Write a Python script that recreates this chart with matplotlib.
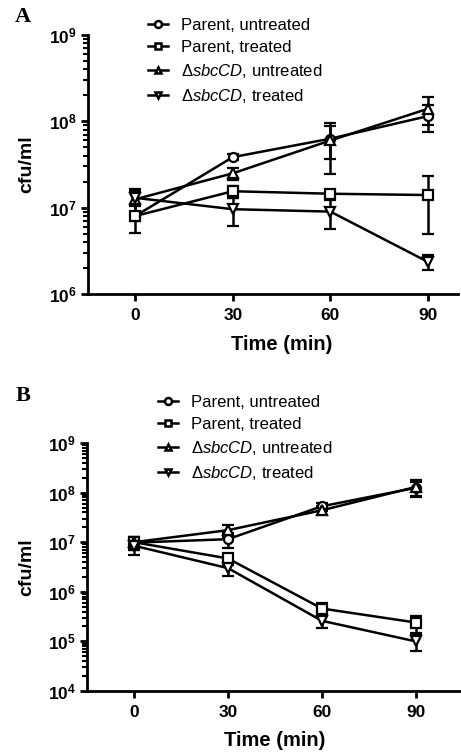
import numpy as np
import matplotlib
matplotlib.use("Agg")
import matplotlib.pyplot as plt
from matplotlib.ticker import FixedLocator, LogLocator, FuncFormatter, NullFormatter

plt.rcParams['font.family'] = ['Liberation Sans', 'DejaVu Sans']
plt.rcParams['mathtext.fontset'] = 'custom'
plt.rcParams['mathtext.rm'] = 'Liberation Sans'
plt.rcParams['mathtext.it'] = 'Liberation Sans:italic'
plt.rcParams['mathtext.bf'] = 'Liberation Sans:bold'

# time points (min)
times = [0, 30, 60, 90]
labels = ['Parent, untreated', 'Parent, treated',
          'Δ$\\mathit{sbcCD}$, untreated', 'Δ$\\mathit{sbcCD}$, treated']
markers = ['o', 's', '^', 'v']

# panel A values (cfu/ml) and errors
a_par_un = [8.0e6, 3.85e7, 6.3e7, 1.15e8]
a_par_un_err = [1.0e6, 3.0e6, 2.6e7, 4.0e7]
a_par_tr = [8.0e6, 1.55e7, 1.45e7, 1.4e7]
a_par_tr_err = [2.9e6, 2.5e6, 1.5e6, 9.0e6]
a_sbc_un = [1.25e7, 2.5e7, 6.0e7, 1.4e8]
a_sbc_un_err = [4.0e6, 4.0e6, 3.55e7, 5.0e7]
a_sbc_tr = [1.3e7, 9.6e6, 9.0e6, 2.35e6]
a_sbc_tr_err = [2.5e6, 3.5e6, 3.3e6, 4.5e5]

# panel B values (cfu/ml) and errors
b_par_un = [9.8e6, 1.15e7, 5.3e7, 1.25e8]
b_par_un_err = [2.5e6, 4.0e6, 1.0e7, 4.0e7]
b_par_tr = [1.0e7, 4.7e6, 4.6e5, 2.4e5]
b_par_tr_err = [3.0e6, 1.2e6, 1.3e5, 9.0e4]
b_sbc_un = [1.0e7, 1.75e7, 4.4e7, 1.3e8]
b_sbc_un_err = [3.0e6, 5.0e6, 9.0e6, 5.0e7]
b_sbc_tr = [8.5e6, 3.0e6, 2.6e5, 1.0e5]
b_sbc_tr_err = [3.0e6, 9.0e5, 7.0e4, 3.5e4]

W, H = 461, 752
fig = plt.figure(figsize=(W / 100, H / 100), dpi=100)


def box(left, right, top, bottom):
    return [left / W, 1 - bottom / H, (right - left) / W, (bottom - top) / H]


def panel(ax, series, errs, ylo, yhi, xlim, leg_xy, xlab_y, ylab_x):
    handles = []
    for vals, err, m in zip(series, errs, markers):
        ax.errorbar(times, vals, yerr=err, color='black', lw=1.8,
                    elinewidth=1.8, capsize=4.5, capthick=1.8,
                    marker=m, ms=6.5, mfc='white', mec='black', mew=1.6,
                    zorder=3)
        h, = ax.plot([], [], color='black', lw=1.8, marker=m, ms=5,
                     mfc='white', mec='black', mew=1.8)
        handles.append(h)
    ax.set_yscale('log')
    ax.set_ylim(10.0 ** ylo, 10.0 ** yhi)
    ax.set_xlim(*xlim)
    ax.set_xticks(times)
    ax.yaxis.set_major_locator(FixedLocator([10.0 ** k for k in range(ylo, yhi + 1)]))
    ax.yaxis.set_minor_locator(LogLocator(base=10, subs=np.arange(2, 10), numticks=20))
    ax.yaxis.set_minor_formatter(NullFormatter())
    ax.yaxis.set_major_formatter(FuncFormatter(
        lambda v, p: r'$\mathbf{10^{%d}}$' % int(round(np.log10(v)))))
    for s in ['top', 'right']:
        ax.spines[s].set_visible(False)
    for s in ['left', 'bottom']:
        ax.spines[s].set_linewidth(2)
    ax.tick_params(axis='both', which='major', width=2, length=5,
                   labelsize=12.5, pad=3)
    ax.tick_params(axis='x', which='major', pad=5)
    ax.tick_params(axis='y', which='minor', width=1.5, length=3.5)
    for t in ax.get_xticklabels():
        t.set_fontweight('bold')
    ax.set_ylabel('cfu/ml', fontsize=14, fontweight='bold')
    ax.yaxis.set_label_coords(ylab_x, 0.5)
    ax.set_xlabel('Time (min)', fontsize=14.5, fontweight='bold')
    x0 = (0 - xlim[0]) / (xlim[1] - xlim[0])
    x1 = (90 - xlim[0]) / (xlim[1] - xlim[0])
    ax.xaxis.set_label_coords((x0 + x1) / 2, xlab_y)
    fig.legend(handles, labels, loc='upper left',
               bbox_to_anchor=(leg_xy[0] / W, 1 - leg_xy[1] / H),
               frameon=False, fontsize=12, handlelength=1.2,
               handletextpad=0.8, labelspacing=0.42, borderpad=0,
               borderaxespad=0)


axA = fig.add_axes(box(88, 458, 35, 294))
panel(axA, [a_par_un, a_par_tr, a_sbc_un, a_sbc_tr],
      [a_par_un_err, a_par_tr_err, a_sbc_un_err, a_sbc_tr_err],
      6, 9, (-14.5, 99.2), (148, 18), -0.158, -0.143)

axB = fig.add_axes(box(87, 461, 443, 691))
panel(axB, [b_par_un, b_par_tr, b_sbc_un, b_sbc_tr],
      [b_par_un_err, b_par_tr_err, b_sbc_un_err, b_sbc_tr_err],
      4, 9, (-15, 104.4), (158, 395), -0.161, -0.139)

fig.text(15 / W, 1 - 17 / H, 'A', fontsize=16, fontweight='bold',
         family='Liberation Serif', va='center')
fig.text(16 / W, 1 - 396 / H, 'B', fontsize=16, fontweight='bold',
         family='Liberation Serif', va='center')

fig.savefig('out.png', dpi=100)
